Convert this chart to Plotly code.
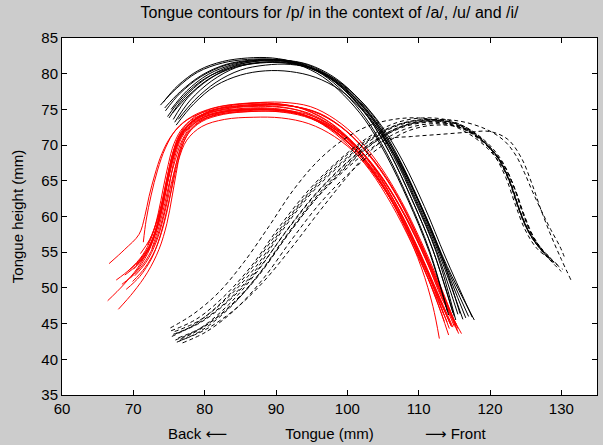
import plotly.graph_objects as go

# ---------------- data (mm) ----------------
# /a/ context: black solid contours
black_x = [
    [73.8,76.0,79.0,82.5,86.0,89.5,93.0,96.5,99.5,102.5,105.5,108.5,111.5,114.2],
    [74.5,76.5,79.5,83.0,86.5,90.0,93.5,97.0,100.0,103.0,106.0,109.0,112.0,115.0],
    [75.0,77.0,80.0,83.5,87.0,90.5,94.0,97.5,100.5,103.5,106.5,109.5,112.5,115.5],
    [75.8,78.0,81.0,84.5,88.0,91.5,95.0,98.0,101.0,104.0,107.0,110.0,113.0,116.2],
    [74.2,76.2,79.2,82.5,86.0,89.5,93.0,96.5,99.5,102.5,105.5,108.5,111.5,114.0],
    [76.0,78.5,81.5,85.0,88.5,92.0,95.5,99.0,102.0,105.0,108.0,111.0,114.0,117.8],
    [75.3,77.5,80.5,84.0,87.5,91.0,94.5,98.0,101.0,104.0,107.0,110.0,113.0,116.6],
    [74.8,77.0,80.0,83.5,87.0,90.5,94.0,97.5,100.5,103.5,106.5,109.5,112.5,115.2],
    [75.5,77.8,80.8,84.3,87.8,91.3,94.8,98.3,101.3,104.3,107.3,110.3,113.3,117.0],
    [74.4,76.6,79.6,83.0,86.5,90.0,93.5,97.0,100.0,103.0,106.0,109.0,112.0,114.8],
    [76.3,78.6,81.6,85.0,88.5,92.0,95.5,98.8,101.8,104.8,107.8,110.8,113.8,117.5],
    [75.6,77.6,80.6,84.0,87.5,91.0,94.5,98.0,101.0,104.0,107.0,110.0,113.0,115.8],
]
black_y = [
    [75.6,77.9,80.2,81.5,82.0,82.0,81.3,79.6,77.0,73.5,68.5,62.3,55.0,46.2],
    [74.8,77.2,79.6,81.2,81.8,81.9,81.3,79.7,77.3,73.8,68.8,62.5,55.3,46.0],
    [73.8,76.5,79.2,81.0,81.7,81.8,81.2,79.6,77.2,73.7,68.7,62.4,55.2,46.3],
    [73.2,76.3,79.0,80.9,81.6,81.6,80.8,79.1,76.6,73.0,67.9,61.6,54.4,45.6],
    [76.0,78.3,80.5,81.7,82.2,82.2,81.5,79.9,77.4,73.9,68.9,62.6,55.3,46.8],
    [72.8,75.8,78.3,79.8,80.4,80.3,79.5,77.7,75.0,71.2,66.2,60.0,53.0,45.5],
    [75.0,77.6,79.9,81.3,81.9,81.9,81.2,79.4,76.9,73.3,68.3,62.0,54.8,45.8],
    [74.0,76.8,79.3,80.8,81.5,81.6,81.0,79.4,76.9,73.4,68.4,62.1,54.9,45.5],
    [74.5,77.0,79.4,80.9,81.5,81.5,80.8,79.0,76.4,72.8,67.8,61.5,54.3,46.0],
    [75.2,77.5,79.8,81.3,81.9,82.0,81.4,79.8,77.3,73.8,68.8,62.5,55.3,46.5],
    [73.6,76.3,78.8,80.5,81.2,81.3,80.6,78.9,76.3,72.7,67.7,61.4,54.2,45.9],
    [73.6,76.6,79.2,81.0,81.8,81.9,81.3,79.6,77.1,73.6,68.6,62.3,55.1,46.4],
]

# /u/ context: red solid contours
red_x = [
    [66.6,68.8,70.8,71.6,72.2,73.0,74.0,75.4,77.5,80.5,84.5,89.0,93.0,97.0,100.5,103.5,106.5,109.2,111.6,113.6],
    [67.6,69.5,71.3,72.6,73.5,74.2,74.9,75.7,77.0,79.2,82.5,86.5,90.5,94.5,98.0,101.5,104.5,107.5,110.3,112.8,115.0],
    [66.4,68.6,70.6,72.2,73.4,74.3,75.0,75.7,76.8,78.8,81.8,85.5,89.5,93.5,97.5,101.0,104.0,107.0,109.8,112.3,114.3],
    [67.9,70.0,72.0,73.6,74.7,75.4,76.0,76.6,77.6,79.6,82.6,86.5,90.5,94.5,98.5,102.0,105.0,108.0,110.8,113.2,115.4],
    [71.4,71.8,72.5,73.4,74.5,76.0,78.2,81.2,85.0,89.0,93.0,96.8,100.2,103.3,106.3,109.0,111.5,113.5],
    [68.8,70.6,72.2,73.3,74.1,74.8,75.5,76.5,78.3,81.0,84.8,88.8,92.8,96.5,100.0,103.2,106.2,109.0,111.6,114.0],
    [69.2,71.0,72.5,73.5,74.2,74.9,75.7,76.9,78.9,81.9,85.8,89.8,93.8,97.5,101.0,104.0,107.0,109.8,112.3,114.6],
    [69.6,71.3,72.8,73.9,74.7,75.3,76.0,77.1,79.0,82.0,86.0,90.0,94.0,97.7,101.2,104.3,107.3,110.0,112.5,114.8],
    [70.0,71.6,72.9,73.8,74.5,75.2,76.1,77.4,79.5,82.6,86.4,90.4,94.4,98.0,101.4,104.5,107.5,110.2,112.7,115.5],
    [68.4,70.3,72.0,73.2,74.1,74.8,75.6,76.7,78.6,81.5,85.3,89.3,93.3,97.0,100.5,103.6,106.6,109.4,112.0,114.5],
    [69.9,71.6,73.1,74.2,75.0,75.6,76.3,77.3,79.1,82.0,85.8,89.8,93.8,97.6,101.2,104.4,107.4,110.2,112.8,115.2],
    [70.4,71.9,73.1,74.0,74.7,75.4,76.3,77.7,79.9,83.0,86.8,90.8,94.8,98.3,101.7,104.7,107.6,110.3,112.8,115.0],
    [70.8,72.2,73.3,74.2,74.9,75.7,76.8,78.4,80.8,84.0,88.0,92.0,96.0,99.5,102.8,105.8,108.6,111.2,113.6,115.6],
    [69.0,70.9,72.6,73.8,74.7,75.5,76.3,77.5,79.6,82.8,86.8,90.8,94.6,98.2,101.6,104.6,107.5,110.1,112.4,114.2],
    [70.2,71.8,73.2,74.2,75.0,75.8,76.8,78.2,80.5,83.8,87.8,91.8,95.5,99.0,102.2,105.2,108.0,110.4,112.0,112.9],
    [71.0,72.3,73.4,74.3,75.1,75.9,77.0,78.7,81.2,84.5,88.5,92.5,96.3,99.8,103.0,106.0,108.8,111.4,113.8,116.0],
    [72.0,73.0,73.9,74.6,75.3,76.2,77.5,79.5,82.3,85.8,89.8,93.8,97.4,100.8,103.9,106.8,109.6,112.2,114.6],
    [72.6,73.6,74.4,75.1,75.9,76.9,78.4,80.6,83.6,87.4,91.4,95.3,98.9,102.2,105.3,108.2,110.9,113.3,115.3],
]
red_y = [
    [53.4,55.4,57.5,60.0,62.8,65.8,68.8,71.4,73.5,74.8,75.4,75.5,74.9,73.1,70.3,66.6,61.8,56.3,50.6,45.3],
    [51.1,52.6,54.6,57.2,60.5,64.0,67.3,70.2,72.5,74.1,75.0,75.4,75.3,74.5,72.6,69.6,65.9,61.1,55.5,49.8,44.6],
    [48.2,50.4,52.8,55.6,59.0,62.6,66.0,69.2,71.8,73.6,74.6,75.0,75.0,74.3,72.4,69.4,65.6,60.8,55.3,49.5,44.3],
    [47.0,49.4,52.2,55.4,59.0,62.6,66.0,69.0,71.5,73.3,74.3,74.7,74.7,74.0,72.1,69.0,65.2,60.4,54.8,49.2,44.0],
    [56.4,59.5,63.0,66.5,69.6,72.2,74.0,75.2,75.8,75.9,75.3,73.6,70.9,67.3,62.6,57.2,51.6,46.3],
    [51.8,53.3,55.6,58.6,62.0,65.6,68.8,71.5,73.4,74.6,75.1,75.2,74.6,72.9,70.1,66.4,61.7,56.3,50.7,45.2],
    [52.3,54.0,56.4,59.5,62.8,66.2,69.3,71.8,73.5,74.5,74.9,74.9,74.2,72.5,69.6,65.9,61.1,55.6,49.9,44.6],
    [51.4,53.2,55.8,59.0,62.4,65.8,69.0,71.6,73.3,74.3,74.7,74.7,74.0,72.3,69.4,65.7,60.9,55.4,49.7,44.5],
    [52.6,54.4,57.0,60.2,63.6,67.0,70.0,72.4,74.0,75.0,75.5,75.6,75.0,73.3,70.5,66.8,62.0,56.5,50.8,44.3],
    [50.5,52.2,54.8,58.0,61.5,65.0,68.4,71.2,73.2,74.4,74.9,75.0,74.4,72.7,69.9,66.2,61.5,56.0,50.3,44.8],
    [50.9,52.8,55.4,58.6,62.0,65.4,68.6,71.3,73.2,74.3,74.8,74.9,74.3,72.6,69.8,66.1,61.3,55.8,50.1,44.8],
    [53.2,55.0,57.6,60.8,64.2,67.6,70.5,72.8,74.4,75.4,75.9,76.0,75.4,73.6,70.7,66.9,62.1,56.6,50.9,45.3],
    [53.8,55.8,58.6,61.9,65.3,68.6,71.4,73.4,74.7,75.4,75.7,75.5,74.5,72.3,69.0,64.9,59.8,54.2,48.6,43.6],
    [49.8,51.6,54.2,57.4,60.9,64.4,67.8,70.7,72.6,73.6,73.9,73.8,73.0,71.2,68.4,64.7,59.9,54.3,48.6,43.4],
    [51.7,53.6,56.4,59.7,63.2,66.6,69.8,72.3,73.9,74.8,75.0,74.7,73.6,71.4,68.1,63.9,58.6,52.8,47.4,42.9],
    [54.8,56.8,59.6,62.8,66.0,69.2,71.9,73.7,74.9,75.5,75.7,75.4,74.3,72.0,68.6,64.4,59.3,53.6,47.8,43.6],
    [56.0,58.5,61.6,64.8,68.0,70.8,73.0,74.5,75.4,75.8,75.8,75.1,73.3,70.4,66.6,61.8,56.1,50.2,44.6],
    [55.5,58.6,61.8,65.0,68.0,70.8,72.9,74.2,74.9,75.1,74.9,74.0,72.0,68.9,64.9,59.9,54.3,48.4,44.9],
]

# /i/ context: black dashed contours
dash_x = [
    [75.2,78.5,82.0,85.5,89.0,92.5,96.0,99.5,103.0,106.5,110.0,113.5,117.0,119.8,121.8,123.2,124.4,125.8,127.6,129.0],
    [75.6,79.0,83.0,87.0,91.0,95.0,99.0,103.0,107.0,111.0,115.0,118.5,121.0,122.8,124.0,125.5,127.5,129.5],
    [76.1,79.5,83.5,87.5,91.5,95.5,99.5,103.5,107.5,111.5,115.5,119.0,121.4,123.0,124.2,125.6,127.4,129.0],
    [75.3,78.8,82.6,86.5,90.5,94.5,98.5,102.5,106.5,110.5,114.5,118.0,120.6,122.4,123.6,125.0,126.8,128.6],
    [76.6,80.0,84.0,88.0,92.0,96.0,100.0,104.0,108.0,112.0,116.0,119.4,121.8,123.4,124.6,126.0,127.8,130.0],
    [75.8,79.2,83.2,87.2,91.2,95.2,99.2,103.2,107.2,111.2,115.2,118.8,121.2,122.9,124.1,125.4,127.0,128.2],
    [76.9,80.3,84.3,88.3,92.3,96.3,100.3,104.3,108.3,112.3,116.3,119.6,122.0,123.6,124.8,126.2,128.2,130.2],
    [75.4,78.6,82.4,86.3,90.3,94.3,98.3,102.3,106.3,110.3,114.3,118.0,120.4,122.2,123.5,124.9,126.6,128.8],
    [76.3,79.7,83.7,87.7,91.7,95.7,99.7,103.7,107.7,111.7,115.7,119.2,121.6,123.3,124.5,125.9,127.6,129.4],
    [75.9,79.3,83.3,87.3,91.3,95.3,99.3,103.3,107.3,111.3,115.3,118.7,121.1,122.8,124.0,125.3,126.6,127.8],
    [76.0,79.5,83.5,87.5,91.5,95.5,99.5,103.5,107.5,111.5,115.5,119.5,122.0,123.6,124.8,126.0,127.4,128.5,129.8,130.4],
    [76.5,80.0,84.0,88.0,92.0,96.0,100.0,103.0,105.5,109.0,113.0,117.0,120.0,122.5,124.4,125.8,127.2,128.6,130.0,131.4],
]
dash_y = [
    [44.4,46.4,49.4,53.6,58.6,63.8,67.9,70.8,72.7,73.6,73.8,73.2,71.6,69.4,66.8,63.6,60.2,57.2,54.8,53.6],
    [43.5,45.0,48.0,52.3,58.2,63.3,67.2,70.5,72.7,73.5,73.0,71.0,68.4,65.0,61.3,57.9,55.2,53.2],
    [42.4,44.0,47.2,51.8,57.4,62.6,66.8,70.2,72.4,73.2,72.6,70.4,67.8,64.4,60.8,57.6,55.0,53.4],
    [44.0,45.6,48.7,53.0,58.6,63.6,67.6,70.8,73.0,73.8,73.4,71.6,69.0,65.8,62.2,58.6,55.8,54.0],
    [42.8,44.6,47.9,52.4,57.9,62.9,66.8,70.0,72.2,73.0,72.4,70.2,67.4,64.0,60.6,57.2,54.6,52.3],
    [43.9,45.4,48.6,53.0,58.8,63.8,67.6,70.8,72.9,73.6,73.0,70.8,68.0,64.6,61.0,57.9,55.6,54.5],
    [42.3,43.9,47.0,51.4,56.9,62.0,66.1,69.5,71.9,72.8,72.3,70.0,67.1,63.6,60.2,57.0,54.3,52.6],
    [43.2,44.9,48.0,52.4,57.9,63.0,67.2,70.4,72.6,73.5,73.3,71.5,68.9,65.5,61.8,58.2,55.5,53.8],
    [43.0,44.5,47.5,51.9,57.5,62.6,66.8,70.3,72.6,73.4,72.9,70.7,67.9,64.3,60.7,57.4,54.9,53.3],
    [42.7,44.3,47.6,52.2,57.8,62.9,67.0,70.3,72.5,73.3,72.8,70.8,68.2,64.8,61.2,58.0,56.0,55.0],
    [43.6,45.2,48.3,52.6,58.0,63.0,67.1,70.4,72.6,73.5,73.4,72.2,70.6,68.6,66.2,63.4,60.4,58.2,55.8,54.4],
    [42.6,44.1,46.8,50.6,55.4,60.6,65.6,69.0,70.8,71.2,71.5,71.8,71.9,70.8,68.2,64.8,60.8,57.2,54.0,51.0],
]

x_ticks = [60, 70, 80, 90, 100, 110, 120, 130]
y_ticks = [35, 40, 45, 50, 55, 60, 65, 70, 75, 80, 85]

title_text = "Tongue contours for /p/ in the context of /a/, /u/ and /i/"
x_title = "Tongue (mm)"
x_left_label = "Back \u27f5"
x_right_label = "\u27f6 Front"
y_title = "Tongue height (mm)"

# ---------------- figure ----------------
FONT = "Liberation Sans, Arial, DejaVu Sans, sans-serif"
FS = 15
fig = go.Figure()

for xs, ys in zip(red_x, red_y):
    fig.add_trace(go.Scatter(x=xs, y=ys, mode="lines",
                             line=dict(color="#ff0000", width=1, shape="spline"),
                             hoverinfo="skip", showlegend=False))
for xs, ys in zip(black_x, black_y):
    fig.add_trace(go.Scatter(x=xs, y=ys, mode="lines",
                             line=dict(color="#000000", width=1, shape="spline"),
                             hoverinfo="skip", showlegend=False))
for xs, ys in zip(dash_x, dash_y):
    fig.add_trace(go.Scatter(x=xs, y=ys, mode="lines",
                             line=dict(color="#000000", width=1, shape="spline",
                                       dash="4px,3px"),
                             hoverinfo="skip", showlegend=False))

axis_common = dict(showgrid=False, zeroline=False, showline=True, linecolor="black",
                   linewidth=1, mirror="ticks", ticks="inside", ticklen=5,
                   tickcolor="black", tickwidth=1,
                   tickfont=dict(family=FONT, size=FS, color="black"))

fig.update_layout(
    width=603, height=445,
    margin=dict(l=62, r=5, t=38, b=48),
    paper_bgcolor="#cccccc", plot_bgcolor="white",
    font=dict(family=FONT, size=FS, color="black"),
    title=dict(text=title_text, x=0.5, xref="paper", y=1 - 12 / 445,
               yref="container", yanchor="middle", xanchor="center",
               font=dict(family=FONT, size=16, color="black")),
    xaxis=dict(range=[60, 135], tickvals=x_ticks, **axis_common,
               title=dict(text=x_title, standoff=12,
                          font=dict(family=FONT, size=FS, color="black"))),
    yaxis=dict(range=[35, 85], tickvals=y_ticks, **axis_common,
               title=dict(text=y_title, standoff=14,
                          font=dict(family=FONT, size=FS, color="black"))),
    annotations=[
        dict(text=x_left_label, xref="paper", yref="paper", x=0.254, y=-0.108,
             xanchor="center", yanchor="middle", showarrow=False,
             font=dict(family=FONT, size=FS, color="black")),
        dict(text=x_right_label, xref="paper", yref="paper", x=0.737, y=-0.108,
             xanchor="center", yanchor="middle", showarrow=False,
             font=dict(family=FONT, size=FS, color="black")),
    ],
)

fig.write_html("out.html",
               config={"displayModeBar": False},
               post_script="document.body.style.margin='0';document.body.style.overflow='hidden';")
